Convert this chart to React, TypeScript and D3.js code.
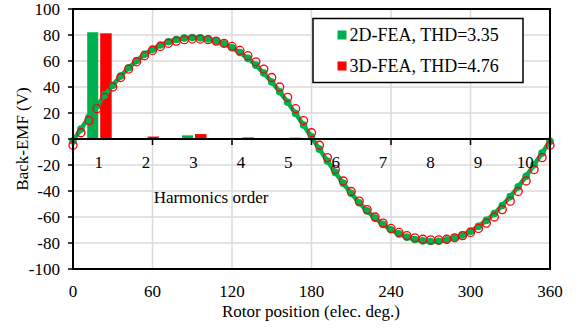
import React from "react";
import * as d3 from "d3";

const angles = [0, 6, 12, 18, 24, 30, 36, 42, 48, 54, 60, 66, 72, 78, 84, 90, 96, 102, 108, 114, 120, 126, 132, 138, 144, 150, 156, 162, 168, 174, 180, 186, 192, 198, 204, 210, 216, 222, 228, 234, 240, 246, 252, 258, 264, 270, 276, 282, 288, 294, 300, 306, 312, 318, 324, 330, 336, 342, 348, 354, 360];

const emf2D = [-1.6, 7.7, 16.7, 25.4, 33.8, 41.4, 48.5, 54.8, 60.3, 65.1, 69.1, 72.3, 74.8, 76.5, 77.6, 78.0, 77.8, 76.9, 75.3, 73.2, 70.2, 66.5, 62.0, 56.8, 50.7, 43.9, 36.4, 28.3, 19.6, 10.7, 1.6,
  -7.8, -16.9, -25.7, -34.1, -41.8, -49.0, -55.3, -60.9, -65.7, -69.8, -73.0, -75.5, -77.3, -78.4, -78.8, -78.6, -77.7, -76.0, -73.9, -70.9, -67.2, -62.6, -57.4, -51.2, -44.3, -36.8, -28.6, -19.8, -10.8, -1.8];

const emf3D = [-4.8, 4.8, 14.2, 23.3, 32.0, 40.0, 47.3, 53.8, 59.4, 64.1, 68.1, 71.2, 73.6, 75.3, 76.4, 76.9, 76.9, 76.4, 75.3, 73.6, 71.2, 68.1, 64.1, 59.4, 53.8, 47.3, 40.0, 32.0, 23.3, 14.2, 4.8,
  -4.8, -14.3, -23.5, -32.3, -40.4, -47.8, -54.3, -60.0, -64.7, -68.8, -71.9, -74.3, -76.0, -77.1, -77.6, -77.6, -77.1, -76.0, -74.3, -71.9, -68.8, -64.7, -60.0, -54.3, -47.8, -40.4, -32.3, -23.5, -14.3, -4.8];

const harmonics = [1, 2, 3, 4, 5, 6, 7, 8, 9, 10];
const thd2D = [82.1, 0.2, 2.8, 0.3, 0.3, 0.1, 0.2, 0.1, 0.1, 0.1];
const thd3D = [81.3, 1.9, 3.8, 1.2, 1.0, 0.8, 0.7, 0.7, 0.6, 0.6];

const xTicks = [0, 60, 120, 180, 240, 300, 360];
const yTicks = [-100, -80, -60, -40, -20, 0, 20, 40, 60, 80, 100];

const legendLabels = ["2D-FEA, THD=3.35", "3D-FEA, THD=4.76"];
const GREEN = "#00b050";
const RED = "#ff0000";
const FONT = "Liberation Serif, serif";

export default function App() {
  const W = 580, H = 331;
  const L = 73, R = 550, T = 9, B = 269;
  const x = d3.scaleLinear().domain([0, 360]).range([L, R]);
  const y = d3.scaleLinear().domain([-100, 100]).range([B, T]);
  const hx = d3.scaleBand<number>().domain(harmonics).range([75, 549]);
  const line = d3.line<number>().x((_, i) => x(angles[i])).y((d) => y(d));
  const c = (h: number) => (hx(h) as number) + hx.bandwidth() / 2;

  return (
    <svg width={W} height={H} style={{ position: "absolute", left: 0, top: 0, background: "#fff" }} fontFamily={FONT}>
      <rect x={0} y={0} width={W} height={H} fill="#fff" />
      {xTicks.filter((t) => t > 0 && t < 360).map((t) => (
        <line key={"gx" + t} x1={x(t)} x2={x(t)} y1={T} y2={B} stroke="#d9d9d9" strokeWidth={1.5} />
      ))}
      {yTicks.filter((t) => t > -100 && t < 100 && t !== 0).map((t) => (
        <line key={"gy" + t} x1={L} x2={R} y1={y(t)} y2={y(t)} stroke="#d9d9d9" strokeWidth={1.5} />
      ))}
      {harmonics.map((h, i) => (
        <g key={"b" + h}>
          <rect x={c(h) - 11.5} width={11} y={y(thd2D[i])} height={y(0) - y(thd2D[i])} fill={GREEN} />
          <rect x={c(h) + 1.5} width={11.5} y={y(thd3D[i])} height={y(0) - y(thd3D[i])} fill={RED} />
        </g>
      ))}
      <path d={line(emf2D) as string} fill="none" stroke={GREEN} strokeWidth={4.5} />
      {emf2D.map((v, i) => (
        <circle key={"g" + i} cx={x(angles[i])} cy={y(v)} r={3.8} fill={GREEN} />
      ))}
      {emf3D.map((v, i) => (
        <circle key={"r" + i} cx={x(angles[i])} cy={y(v)} r={4} fill="none" stroke={RED} strokeWidth={1.3} />
      ))}
      <line x1={L} x2={R} y1={y(0)} y2={y(0)} stroke="#000" strokeWidth={2} />
      {xTicks.filter((t) => t > 0 && t < 360).map((t) => (
        <line key={"ht" + t} x1={x(t)} x2={x(t)} y1={y(0)} y2={y(0) + 6} stroke="#000" strokeWidth={1.5} />
      ))}
      {harmonics.map((h) => (
        <text key={"hl" + h} x={c(h)} y={168} textAnchor="middle" fontSize={17} fill="#000">{h}</text>
      ))}
      <text x={211} y={203} textAnchor="middle" fontSize={17} fill="#000">Harmonics order</text>
      <rect x={L} y={T} width={R - L} height={B - T} fill="none" stroke="#000" strokeWidth={2} />
      {yTicks.map((t) => (
        <line key={"yt" + t} x1={L - 5} x2={L} y1={y(t)} y2={y(t)} stroke="#000" strokeWidth={1.5} />
      ))}
      {yTicks.map((t) => (
        <text key={"yl" + t} x={60} y={y(t) + 6} textAnchor="end" fontSize={17} fill="#000">{t}</text>
      ))}
      {xTicks.map((t) => (
        <text key={"xl" + t} x={x(t)} y={297} textAnchor="middle" fontSize={17} fill="#000">{t}</text>
      ))}
      <text x={311} y={317} textAnchor="middle" fontSize={17} fill="#000">Rotor position (elec. deg.)</text>
      <text transform={`translate(28,${y(0)}) rotate(-90)`} textAnchor="middle" fontSize={17} fill="#000">Back-EMF (V)</text>
      <rect x={313} y={18.5} width={210} height={64} fill="#fff" stroke="#000" strokeWidth={1.5} />
      {legendLabels.map((lab, i) => (
        <g key={"lg" + i}>
          <rect x={337.5} y={30.5 + i * 31} width={9} height={9} fill={i === 0 ? GREEN : RED} />
          <text x={349.5} y={41 + i * 31} fontSize={18} fill="#000">{lab}</text>
        </g>
      ))}
    </svg>
  );
}
